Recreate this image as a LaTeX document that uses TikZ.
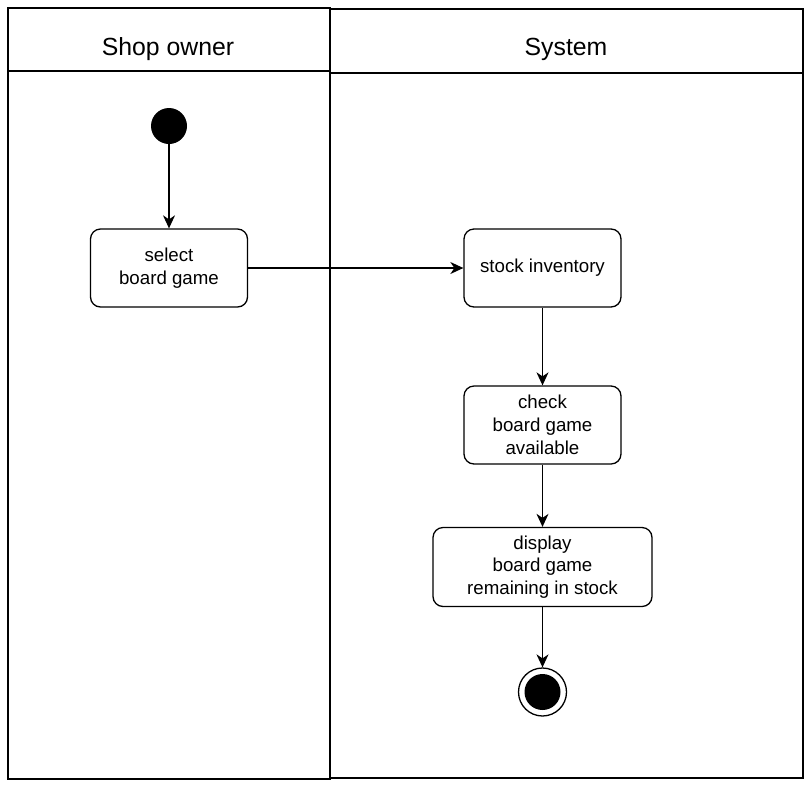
\documentclass[tikz,border=0pt]{standalone}
\usepackage{fontspec}
\setmainfont{Liberation Sans}
\usetikzlibrary{arrows.meta}

\tikzset{
  action/.style = {draw, rounded corners = 10pt, line width = 1.3pt, align = center,
                   inner sep = 0pt, font = \fontsize{18.7}{22.8}\selectfont},
  flow/.style   = {line width = 1.3pt, -{Stealth[length = 13pt, width = 12pt, inset = 4pt]}},
  lane/.style   = {line width = 1.3pt},
}

\begin{document}
\begin{tikzpicture}[x = 1pt, y = -1pt]
          \useasboundingbox (0,0) rectangle (810,788);

          % swimlanes
          \draw[lane] (8,8)   rectangle (330,779);
          \draw[lane] (8,71)  -- (330,71);
          \draw[lane] (330,9) rectangle (803,778);
          \draw[lane] (330,73) -- (803,73);
          \node[font = \fontsize{24.8}{29}\selectfont] at (168,49) (owner)  {Shop owner};
          \node[font = \fontsize{24.8}{29}\selectfont] at (566,49) (system) {System};

          \node[circle, fill, inner sep = 0pt, minimum size = 36pt] at (169,126) (start) {};

          \node[action, minimum width = 157pt, minimum height = 78pt] at (169,268)   (select)  {select\\board game};
          \node[action, minimum width = 157pt, minimum height = 78pt] at (542.5,268) (stock)   {stock inventory};
          \node[action, minimum width = 157pt, minimum height = 78pt] at (542.5,425) (check)   {check\\board game\\available};
          \node[action, minimum width = 219pt, minimum height = 79pt] at (542.5,567) (display) {display\\board game\\remaining in stock};

          \node[circle, draw, line width = 1.3pt, inner sep = 0pt, minimum size = 48pt] at (542.5,692) (stop) {};
          \node[circle, fill, inner sep = 0pt, minimum size = 36pt] at (stop) (stopdot) {};

          \draw[flow] (start)   -- (select);
          \draw[flow] (select)  -- (stock);
          \draw[flow] (stock)   -- (check);
          \draw[flow] (check)   -- (display);
          \draw[flow] (display) -- (stop);
        \end{tikzpicture}
\end{document}
